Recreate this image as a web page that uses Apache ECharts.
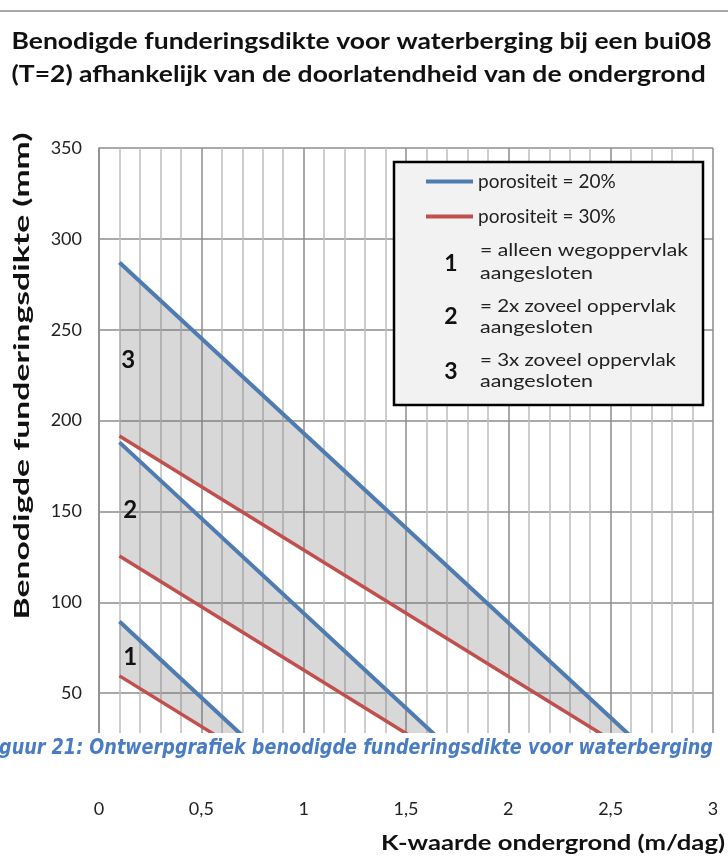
<!DOCTYPE html>
<html><head><meta charset="utf-8">
<script src="https://cdn.jsdelivr.net/npm/echarts@6/dist/echarts.min.js"></script>
<style>html,body{margin:0;padding:0;background:#fff}#c{width:728px;height:863px}</style>
</head><body><div id="c"></div>
<script>
// ---------- texts ----------
const titleLines = ['Benodigde funderingsdikte voor waterberging bij een bui08',
                    '(T=2) afhankelijk van de doorlatendheid van de ondergrond'];
const yAxisTitle = 'Benodigde funderingsdikte (mm)';
const xAxisTitle = 'K-waarde ondergrond (m/dag)';
const captionText = 'guur 21: Ontwerpgrafiek benodigde funderingsdikte voor waterberging';
const seriesNames = ['porositeit = 20%', 'porositeit = 30%'];
const caseLabels = ['1', '2', '3'];
const caseTexts = [['= alleen wegoppervlak', 'aangesloten'],
                   ['= 2x zoveel oppervlak', 'aangesloten'],
                   ['= 3x zoveel oppervlak', 'aangesloten']];
// ---------- axis ticks ----------
const xTicks = [0, 0.5, 1, 1.5, 2, 2.5, 3];
const yTicks = [0, 50, 100, 150, 200, 250, 300, 350];
// ---------- data: [K-waarde (m/dag), funderingsdikte (mm)] ----------
const por20_case1 = [[0.1, 89.4], [0.955, 0]];
const por30_case1 = [[0.1, 59.5], [0.955, 0]];
const por20_case2 = [[0.1, 188], [1.9, 0]];
const por30_case2 = [[0.1, 125.5], [1.9, 0]];
const por20_case3 = [[0.1, 287], [2.85, 0]];
const por30_case3 = [[0.1, 191.5], [2.85, 0]];
// label anchor positions for the case numbers (data coords)
const caseLabelPos = [[0.152, 70], [0.152, 150.5], [0.143, 233]];

const BLUE = '#4f7cb0', RED = '#c0504d';
const FONT = 'Lato, Carlito, "Open Sans", sans-serif';

const cases = [[por20_case1, por30_case1], [por20_case2, por30_case2], [por20_case3, por30_case3]];

const series = [];
// grey bands between the 20% and 30% lines
cases.forEach((c, i) => {
  const blue = c[0], red = c[1];
  series.push({
    type: 'custom', coordinateSystem: 'cartesian2d', silent: true, z: 1, clip: true,
    data: [[blue[0][0], 0]],
    renderItem: (params, api) => {
      const pts = blue.map(p => api.coord(p)).concat(red.slice().reverse().map(p => api.coord(p)));
      return {type: 'polygon', shape: {points: pts}, style: {fill: 'rgba(110,110,110,0.27)'}};
    }
  });
});
cases.forEach((c) => {
  series.push({type: 'line', name: seriesNames[0], data: c[0], symbol: 'none',
    lineStyle: {color: BLUE, width: 4}, itemStyle: {color: BLUE}, z: 3});
  series.push({type: 'line', name: seriesNames[1], data: c[1], symbol: 'none',
    lineStyle: {color: RED, width: 3.5}, itemStyle: {color: RED}, z: 3});
});

const chart = echarts.init(document.getElementById('c'), null, {renderer: 'canvas'});
chart.setOption({
  animation: false,
  backgroundColor: '#fff',
  grid: {left: 99, right: 15, top: 148, bottom: 79},
  xAxis: {
    type: 'value', min: xTicks[0], max: xTicks[xTicks.length - 1], interval: 0.5,
    axisLine: {show: true, lineStyle: {color: '#8c8c8c', width: 1.5}},
    axisTick: {show: false},
    axisLabel: {fontFamily: FONT, fontSize: 18, color: '#222', margin: 16,
      formatter: v => String(v).replace('.', ',')},
    splitLine: {show: true, lineStyle: {color: '#8c8c8c', width: 1.5}},
    minorTick: {show: false, splitNumber: 5},
    minorSplitLine: {show: true, lineStyle: {color: '#bdbdbd', width: 1.5}}
  },
  yAxis: {
    type: 'value', min: yTicks[0], max: yTicks[yTicks.length - 1], interval: 50,
    axisLine: {show: true, lineStyle: {color: '#8c8c8c', width: 1.5}},
    axisTick: {show: false},
    axisLabel: {fontFamily: FONT, fontSize: 18, color: '#222', margin: 17},
    splitLine: {show: true, lineStyle: {color: '#8c8c8c', width: 1.5}}
  },
  legend: {
    data: seriesNames, orient: 'vertical', left: 426, top: 171.5, icon: 'rect',
    itemWidth: 47, itemHeight: 4, itemGap: 15, padding: 0, z: 6,
    textStyle: {fontFamily: FONT, fontSize: 19, lineHeight: 20, color: '#222'}
  },
  series: series
});

// ---------- text helpers ----------
const ctx = document.createElement('canvas').getContext('2d');
function measure(text, size, weight, family, style) {
  ctx.font = (style || 'normal') + ' ' + (weight || 'normal') + ' ' + size + 'px ' + family;
  return ctx.measureText(text).width;
}
function fitText(id, text, x, y, size, weight, family, targetW, opts) {
  opts = opts || {};
  const w = measure(text, size, weight, family, opts.fontStyle);
  return {
    type: 'text', id: id, x: x, y: y, z: opts.z || 5, rotation: opts.rotation || 0,
    scaleX: targetW / w, scaleY: 1,
    style: {text: text, fontSize: size, fontWeight: weight, fontFamily: family,
      fontStyle: opts.fontStyle || 'normal', fill: opts.fill || '#111',
      align: opts.align || 'left', verticalAlign: 'middle'}
  };
}

const g = [];
g.push({type: 'line', id: 'topline', shape: {x1: 0, y1: 11, x2: 728, y2: 11},
  style: {stroke: '#a8a8a8', lineWidth: 2}, z: 5});
// title (same horizontal scale for both lines)
const tw = measure(titleLines[0], 23, 'bold', FONT);
const tScale = 700 / tw;
titleLines.forEach((t, i) => {
  g.push({type: 'text', id: 'title' + i, x: 11.5, y: 42 + i * 33, scaleX: tScale, z: 5,
    style: {text: t, fontSize: 23, fontWeight: 'bold', fontFamily: FONT, fill: '#111',
      align: 'left', verticalAlign: 'middle'}});
});
// axis titles
g.push(fitText('ytitle', yAxisTitle, 22, 376, 21, 'bold', FONT, 487,
  {rotation: Math.PI / 2, align: 'center'}));
g.push(fitText('xtitle', xAxisTitle, 381, 843, 21, 'bold', FONT, 344));
// legend box
g.push({type: 'rect', id: 'legbox', shape: {x: 394, y: 162, width: 309, height: 243},
  style: {fill: '#f2f2f2', stroke: '#000', lineWidth: 2.5}, z: 4});
const numY = [263.3, 316.7, 371.7];
const lineY = [[250, 273.3], [305.7, 326.7], [360, 380.7]];
caseLabels.forEach((lab, i) => {
  g.push({type: 'text', id: 'legnum' + i, x: 451, y: numY[i], z: 6,
    style: {text: lab, fontSize: 23, fontWeight: 'bold', fontFamily: FONT, fill: '#111',
      align: 'center', verticalAlign: 'middle'}});
  g.push(fitText('legt' + i + 'a', caseTexts[i][0], 480, lineY[i][0], 18, 'normal', FONT,
    i === 0 ? 208 : 196, {z: 6, fill: '#222'}));
  g.push(fitText('legt' + i + 'b', caseTexts[i][1], 480, lineY[i][1], 18, 'normal', FONT,
    113, {z: 6, fill: '#222'}));
});
// case numbers inside the plot
caseLabels.forEach((lab, i) => {
  const p = chart.convertToPixel({gridIndex: 0}, caseLabelPos[i]);
  g.push({type: 'text', id: 'case' + i, x: p[0], y: p[1], z: 6,
    style: {text: lab, fontSize: 24, fontWeight: 'bold', fontFamily: FONT, fill: '#111',
      align: 'center', verticalAlign: 'middle'}});
});
// white caption band over the lower part of the chart
g.push({type: 'rect', id: 'band', shape: {x: 0, y: 733, width: 728, height: 59},
  style: {fill: '#fff'}, z: 10});
g.push(fitText('caption', captionText, -1, 748.5, 22, 'bold',
  '"Liberation Sans Narrow", "DejaVu Sans Condensed", "Liberation Sans", sans-serif', 714,
  {z: 11, fill: '#4a7cc4', fontStyle: 'italic'}));

chart.setOption({graphic: {elements: g}});
</script>
</body></html>
